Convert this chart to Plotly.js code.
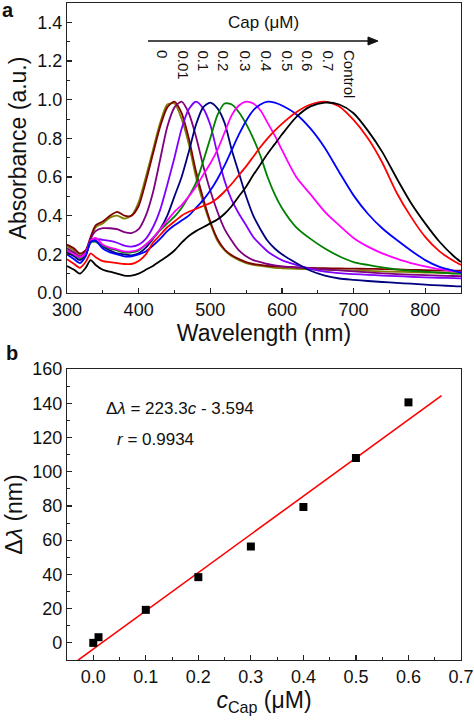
<!DOCTYPE html>
<html>
<head>
<meta charset="utf-8">
<script src="https://cdn.plot.ly/plotly-3.0.1.min.js"></script>
<style>html,body{margin:0;padding:0;background:#fff;}#chart{width:474px;height:722px;}</style>
</head>
<body>
<div id="chart"></div>
<script>
// ---------- Panel a: UV-vis spectra ----------
const wavelengths = [300,310,318,326,333,340,350,360,370,380,390,400,410,420,430,440,450,460,470,480,490,500,510,520,530,540,550,560,570,580,590,600,620,640,660,680,700,720,740,760,780,800,820,840,850];

const absCap0 = [.24,.22,.20,.215,.28,.34,.36,.39,.40,.385,.40,.47,.60,.74,.88,.975,.98,.90,.77,.60,.47,.36,.27,.22,.19,.17,.155,.145,.14,.135,.13,.128,.125,.122,.12,.118,.116,.114,.112,.11,.108,.106,.104,.103,.102];
const absCap001 = [.25,.23,.205,.22,.29,.35,.37,.40,.42,.40,.40,.45,.575,.72,.86,.96,.99,.93,.80,.63,.49,.37,.28,.225,.195,.175,.16,.15,.145,.14,.138,.136,.133,.13,.128,.127,.126,.125,.124,.122,.12,.118,.116,.115,.115];
const absCap01 = [.23,.21,.19,.21,.28,.32,.335,.335,.33,.315,.31,.33,.40,.52,.69,.86,.96,.99,.93,.81,.66,.53,.42,.33,.27,.22,.19,.17,.16,.15,.143,.138,.132,.127,.122,.117,.112,.107,.102,.098,.095,.092,.09,.088,.087];
const absCap02 = [.22,.20,.185,.205,.27,.28,.275,.27,.26,.245,.24,.25,.28,.34,.43,.56,.70,.85,.95,.99,.955,.87,.72,.58,.48,.41,.35,.29,.25,.215,.19,.17,.145,.125,.11,.103,.098,.094,.09,.087,.084,.081,.079,.077,.076];
const absCap03 = [.21,.19,.17,.195,.265,.27,.24,.22,.205,.20,.195,.205,.235,.28,.33,.40,.50,.60,.73,.87,.96,.985,.955,.88,.74,.62,.50,.40,.33,.27,.23,.20,.155,.115,.09,.075,.068,.062,.057,.052,.048,.043,.039,.036,.034];
const absCap04 = [.22,.20,.18,.20,.26,.265,.245,.23,.22,.21,.21,.22,.25,.285,.325,.36,.395,.44,.50,.57,.68,.80,.92,.98,.975,.935,.875,.80,.71,.60,.51,.44,.34,.28,.23,.19,.16,.145,.132,.122,.115,.11,.105,.10,.10];
const absCap05 = [.22,.20,.185,.205,.27,.285,.25,.235,.225,.215,.215,.225,.25,.285,.33,.375,.42,.455,.50,.55,.61,.67,.74,.83,.92,.97,.99,.98,.945,.88,.815,.74,.60,.51,.42,.35,.285,.24,.205,.178,.155,.138,.123,.112,.108];
const absCap06 = [.20,.175,.155,.19,.265,.27,.23,.21,.20,.19,.19,.20,.215,.245,.28,.32,.35,.375,.40,.44,.48,.53,.59,.66,.74,.82,.89,.945,.975,.99,.985,.97,.925,.85,.75,.625,.505,.41,.335,.275,.22,.17,.135,.115,.105];
const absCap07 = [.175,.15,.13,.16,.205,.185,.165,.16,.155,.15,.15,.165,.20,.26,.30,.34,.37,.40,.42,.435,.45,.465,.49,.525,.565,.61,.655,.705,.755,.80,.84,.875,.935,.975,.99,.965,.895,.80,.675,.52,.395,.29,.215,.165,.145];
const absControl = [.14,.12,.10,.13,.17,.145,.12,.11,.10,.09,.09,.10,.12,.14,.165,.19,.22,.26,.295,.32,.34,.36,.38,.41,.45,.50,.55,.61,.665,.72,.77,.82,.91,.965,.985,.975,.93,.84,.73,.595,.467,.36,.265,.19,.16];

const capLabels = ['0','0.01','0.1','0.2','0.3','0.4','0.5','0.6','0.7','Control'];
const spectra = [absCap0, absCap001, absCap01, absCap02, absCap03, absCap04, absCap05, absCap06, absCap07, absControl];
const spectraColors = ['#808000','#800000','#800080','#8000FF','#000080','#008000','#FF00FF','#0000FF','#FF0000','#000000'];
// pixel x of the rotated labels (layout only)
const capLabelPx = [163,183,203,223,245,266,287,307,328,350];

// ---------- Panel b: shift vs concentration ----------
const concentration = [0, 0.01, 0.1, 0.2, 0.3, 0.4, 0.5, 0.6];
const deltaLambda = [0, 3.3, 19.3, 38.4, 56.3, 79.4, 108, 140.5];
const fitSlope = 223.3, fitIntercept = -3.594;
const fitRange = [-0.029, 0.663];

const FONT = 'Arial, "Liberation Sans", Helvetica, sans-serif';

const traces = [];
spectra.forEach((s, i) => {
  traces.push({
    x: wavelengths, y: s, type: 'scatter', mode: 'lines',
    line: {color: spectraColors[i], width: 1.8, shape: 'spline', smoothing: 0.7},
    xaxis: 'x', yaxis: 'y', name: capLabels[i], hoverinfo: 'skip'
  });
});
traces.push({
  x: fitRange, y: fitRange.map(c => fitSlope * c + fitIntercept),
  type: 'scatter', mode: 'lines', line: {color: '#FF0000', width: 1.6},
  xaxis: 'x2', yaxis: 'y2', hoverinfo: 'skip'
});
traces.push({
  x: concentration, y: deltaLambda, type: 'scatter', mode: 'markers',
  marker: {symbol: 'square', size: 8, color: '#000000'},
  xaxis: 'x2', yaxis: 'y2', hoverinfo: 'skip'
});

const L = 67, R = 461, T = 3, B = 660, H = 722;
const px2paperX = px => (px - L) / (R - L);
const px2paperY = py => (B - py) / (B - T);

const axCommon = {
  showline: true, linecolor: '#222', linewidth: 1.2, mirror: true,
  ticks: 'inside', ticklen: 5, tickwidth: 1.2, tickcolor: '#222',
  showgrid: false, zeroline: false,
  tickfont: {family: FONT, size: 18, color: '#111'},
};

const annotations = [];
capLabels.forEach((t, i) => {
  annotations.push({
    xref: 'paper', yref: 'paper', x: px2paperX(capLabelPx[i]), y: px2paperY(48),
    xanchor: 'center', yanchor: 'top', text: t, textangle: 90, showarrow: false,
    font: {family: FONT, size: 15, color: '#111'}
  });
});
annotations.push({
  xref: 'paper', yref: 'paper', x: px2paperX(263), y: px2paperY(22),
  xanchor: 'center', yanchor: 'middle', text: 'Cap (μM)', showarrow: false,
  font: {family: FONT, size: 17, color: '#111'}
});
annotations.push({
  xref: 'paper', yref: 'paper', x: px2paperX(8), y: px2paperY(10),
  xanchor: 'center', yanchor: 'middle', text: '<b>a</b>', showarrow: false,
  font: {family: FONT, size: 20, color: '#111'}
});
annotations.push({
  xref: 'paper', yref: 'paper', x: px2paperX(12), y: px2paperY(353),
  xanchor: 'center', yanchor: 'middle', text: '<b>b</b>', showarrow: false,
  font: {family: FONT, size: 20, color: '#111'}
});
annotations.push({
  xref: 'paper', yref: 'paper', x: px2paperX(104), y: px2paperY(408),
  xanchor: 'left', yanchor: 'middle', text: 'Δ<i>λ</i> = 223.3<i>c</i> - 3.594', showarrow: false,
  font: {family: FONT, size: 17, color: '#111'}
});
annotations.push({
  xref: 'paper', yref: 'paper', x: px2paperX(115), y: px2paperY(439),
  xanchor: 'left', yanchor: 'middle', text: '<i>r</i> = 0.9934', showarrow: false,
  font: {family: FONT, size: 17, color: '#111'}
});

// concentration arrow (line + head)
const ax0 = px2paperX(148), ax1 = px2paperX(368), axHead = px2paperX(378);
const ay = px2paperY(41), ayUp = px2paperY(37), ayDn = px2paperY(45);
const shapes = [
  {type: 'line', xref: 'paper', yref: 'paper', x0: ax0, x1: ax1, y0: ay, y1: ay,
   line: {color: '#111', width: 1.3}},
  {type: 'path', xref: 'paper', yref: 'paper',
   path: `M ${axHead} ${ay} L ${ax1} ${ayUp} L ${ax1} ${ayDn} Z`,
   fillcolor: '#111', line: {color: '#111', width: 1}}
];

const layout = {
  width: 474, height: H,
  margin: {l: L, r: 474 - R, t: T, b: H - B},
  paper_bgcolor: '#fff', plot_bgcolor: '#fff',
  showlegend: false,
  xaxis: Object.assign({}, axCommon, {
    domain: [0, 1], anchor: 'y', range: [300, 850], dtick: 100, tick0: 300,
    minor: {ticks: 'inside', ticklen: 3, dtick: 50, tickcolor: '#222', tickwidth: 1},
    title: {text: 'Wavelength (nm)', font: {family: FONT, size: 23, color: '#111'}, standoff: 6}
  }),
  yaxis: Object.assign({}, axCommon, {
    domain: [px2paperY(293), 1], anchor: 'x', range: [0, 1.5], dtick: 0.2, tick0: 0, tickformat: '.1f',
    minor: {ticks: 'inside', ticklen: 3, dtick: 0.1, tickcolor: '#222', tickwidth: 1},
    title: {text: 'Absorbance (a.u.)', font: {family: FONT, size: 23, color: '#111'}, standoff: 4}
  }),
  xaxis2: Object.assign({}, axCommon, {
    domain: [0, 1], anchor: 'y2', range: [-0.05, 0.7], dtick: 0.1, tick0: 0, tickformat: '.1f',
    minor: {ticks: 'inside', ticklen: 3, dtick: 0.05, tickcolor: '#222', tickwidth: 1},
    title: {text: '<i>c</i><sub>Cap</sub> (μM)', font: {family: FONT, size: 23, color: '#111'}, standoff: 6}
  }),
  yaxis2: Object.assign({}, axCommon, {
    domain: [0, px2paperY(369)], anchor: 'x2', range: [-10, 160], dtick: 20, tick0: 0,
    minor: {ticks: 'inside', ticklen: 3, dtick: 10, tickcolor: '#222', tickwidth: 1},
    title: {text: 'Δ<i>λ</i> (nm)', font: {family: FONT, size: 23, color: '#111'}, standoff: 3}
  }),
  annotations: annotations,
  shapes: shapes
};

Plotly.newPlot('chart', traces, layout, {staticPlot: true, displayModeBar: false});
</script>
</body>
</html>
